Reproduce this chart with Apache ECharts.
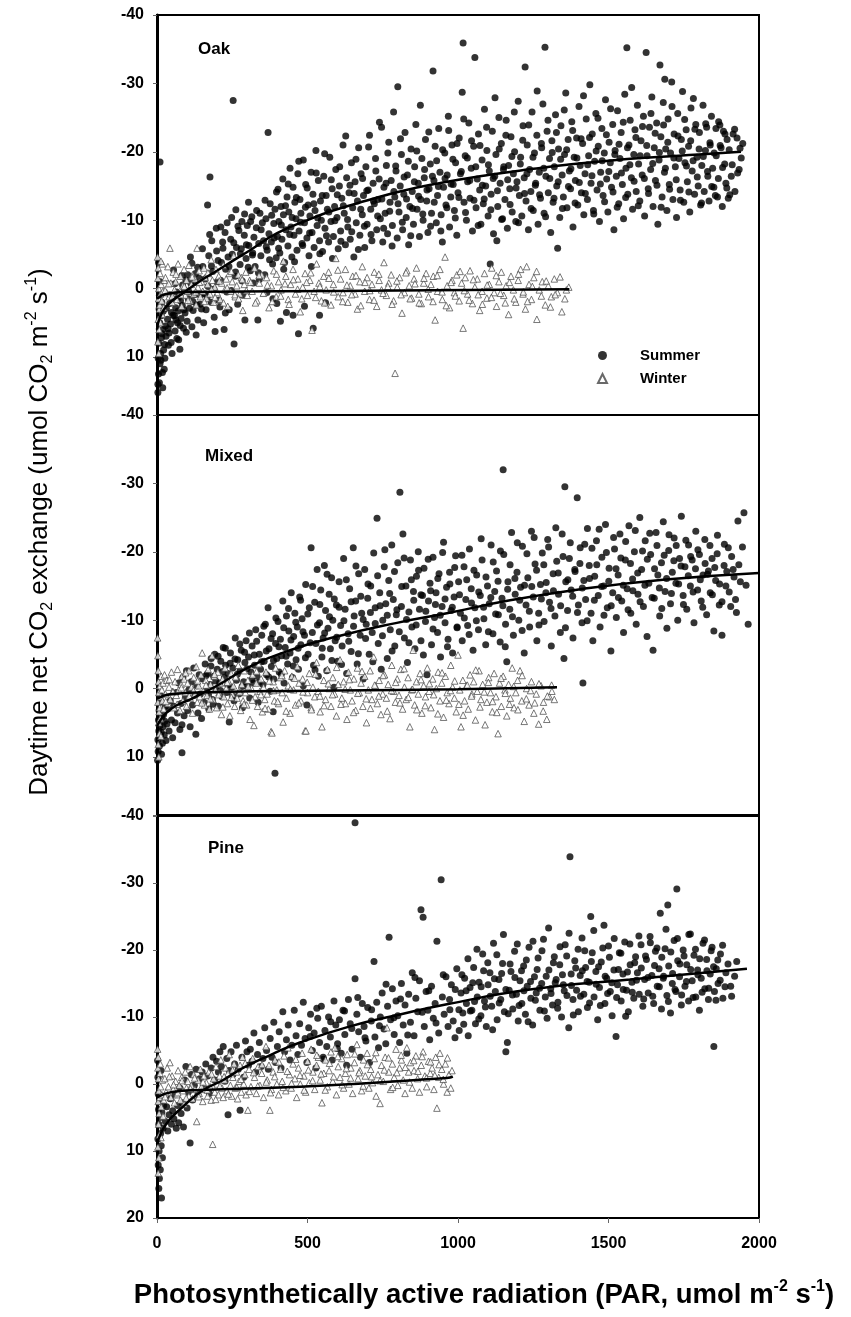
<!DOCTYPE html>
<html>
<head>
<meta charset="utf-8">
<script src="https://cdn.jsdelivr.net/npm/echarts@6.0.0/dist/echarts.min.js"></script>
<style>html,body{margin:0;padding:0;background:#fff;}#c{width:851px;height:1317px;}</style>
</head>
<body>
<div id="c"></div>
<script>
const panelNames = ['Oak', 'Mixed', 'Pine'];
const xTicks = [0, 500, 1000, 1500, 2000];
const yTicks = [-40, -30, -20, -10, 0, 10, 20];

const oakSummer = [
[3,15.2],[5,12.5],[8,13.8],[10,11],[12,9.5],[6,8],[15,7.2],[4,10.2],[18,12.3],[20,6],[9,5],[14,4],[22,9],[25,8.2],[7,3],[11,-1],[5,-3.8],[10,-18.5],[16,2],[28,5.5],[30,7],[3,14],[13,10.5],[24,11.8],[19,14.5],[8,1],
[35,4.5],[40,6.5],[42,2.2],[45,5.2],[48,3.5],[52,1.5],[55,-2.7],[58,4],[60,6.2],[62,2.8],[65,0.5],[68,5],[70,3.3],[72,7.5],[76,8.9],[78,1.8],[80,4.4],[84,2.5],[88,5.8],[90,0.2],[93,3.6],[96,-1.2],[100,4.8],[104,1.5],[108,2.9],[112,-0.8],[116,5.6],[116,-3.7],[120,3.2],[124,0.9],[128,-2.2],[132,2.4],[136,4.6],[140,-1.5],[144,1],[148,3],[38,8.3],[50,9.5],[66,7.3],[85,-0.5],[102,-2],[130,6.8],
[17,6.6],[21,3.3],[26,10.2],[31,2.9],[37,5.9],[43,0.9],[47,7.9],[53,3.9],[59,-0.7],[63,4.6],[71,1.3],[77,5.4],[83,-1.9],[89,3.1],[97,6.4],[105,0.4],[111,-4.6],[119,1.9],[127,-0.9],[135,-3.1],[143,2.3],[151,-5.8],[159,-1.4],[167,1.2],[175,-7.9],[181,-3.3],[189,0.1],[197,-8.8],[203,-4.1],[211,-1.2],[219,-5.9],[227,3.6],[233,-9.6],[239,-3.2],[247,0.3],[255,-6.7],[261,-2.4],[269,-9.1],[277,-5.1],[283,-1.1],[291,-10.9],[297,-6.4],
[152,-3.2],[155,5],[160,0.8],[163,3.1],[168,-12.2],[172,-4.8],[176,-16.3],[180,2],[185,-2.5],[190,4.2],[193,6.3],[198,-5.5],[200,-1],[205,1.7],[209,2.7],[214,-3.8],[218,-6.8],[223,6],[228,-2.8],[232,0.5],[236,-4.6],[240,3.1],[245,-7.2],[250,-5],[253,-27.5],[256,8.1],[260,-1.8],[264,-6],[268,2.3],[272,-8.5],[276,-3.5],[280,-5.8],[285,1],[290,-7.8],[292,4.6],[296,-4.4],[300,-9.2],[305,-6.3],[310,-2.6],[315,-10.5],[318,-5.2],[322,-7.5],[326,-3.2],[330,-8.9],[335,4.6],[338,-6.6],[342,-11],[345,-4.8],[350,-9.6],[354,-7],[358,-2],[362,-10.2],[366,-5.6],[369,-22.8],[372,-8],[376,-12.4],[380,-6.8],[384,-3.6],[388,-9.5],[392,-11.6],[396,-4.5],[400,-7.6],[170,-0.3],[182,-7],[212,-9],[226,-8.2],[248,-10.4],[262,-11.5],[282,-9.8],[304,-12.6],[320,-0.8],[340,-1.3],[365,0.6],[385,1.5],[398,2.2],
[410,4.8],[430,3.5],[452,3.9],[470,6.6],[490,2.6],[519,5.8],[540,3.9],[560,2.1],
[402,-14.5],[405,-9.8],[408,-5.2],[412,-12],[415,-7.2],[418,-16],[420,-10.8],[424,-3.8],[428,-8.6],[432,-13.4],[435,-6.2],[438,-11.2],[442,-17.6],[445,-9],[448,-4.6],[452,-14.8],[455,-7.8],[458,-12.6],[462,-10.2],[465,-5.6],[468,-16.8],[472,-8.4],[475,-13],[478,-11],[482,-6.6],[486,-18.8],[490,-9.6],[494,-15.2],[498,-7.4],[502,-12.2],[505,-4.8],[508,-10.6],[512,-17],[515,-8.2],[518,-13.8],[522,-6],[525,-11.4],[528,-20.2],[532,-9.2],[536,-15.8],[540,-7],[543,-12.8],[546,-10],[550,-5.4],[554,-16.4],[558,-8.8],[562,-13.6],[566,-11.6],[570,-6.8],[574,-19.2],[578,-9.8],[582,-14.6],[586,-7.6],[590,-12],[594,-17.4],[598,-10.4],[602,-5.8],[606,-15],[610,-8.4],[614,-13.2],[618,-21],[622,-11],[626,-6.4],[630,-16.2],[634,-9],[638,-14],[642,-7.2],[646,-18.4],[650,-11.8],[654,-4.6],[658,-15.6],[662,-9.6],[666,-12.8],[670,-20.6],[674,-7.8],[678,-16.8],[682,-10.8],[686,-13.6],[690,-6],[694,-17.8],[698,-9.4],[702,-14.4],[706,-22.4],[710,-11.6],[714,-7],[718,-15.4],[722,-12.4],[726,-19],[730,-8.6],[734,-13],[738,-16],[742,-10.2],[746,-23.6],[750,-6.8],[754,-14.8],[758,-11],[762,-18],[766,-8],[770,-21.4],[774,-12.6],[778,-15.8],[782,-9.2],[786,-25.8],[790,-13.4],[794,-17.2],[798,-7.4],[800,-29.5],
[303,-3.1],[311,-9.8],[317,-4.9],[331,-11.4],[337,-2.3],[346,-8.6],[359,-12.9],[363,-6.1],[374,-4.2],[381,-10.7],[389,-7.4],[397,-14.1],[404,-5.9],[413,-9.3],[421,-2.8],[427,-12.1],[436,-15.3],[441,-7.9],[449,-10.4],[457,-3.9],[463,-13.3],[471,-18.6],[477,-9.7],[484,-6.3],[493,-11.9],[499,-14.7],[507,-8.1],[513,-3.2],[521,-12.4],[529,-16.9],[534,-10.3],[541,-5.1],[549,-13.6],[557,-19.7],[563,-7.7],[571,-11.2],[579,-15.9],[583,-4.4],[591,-9.9],[599,-13.7],[607,-17.8],[611,-6.9],[619,-12.1],[627,-22.3],[633,-10.1],[641,-15.1],[647,-8.3],[655,-13.9],[661,-18.9],[669,-5.7],[677,-11.6],[683,-16.1],[689,-9.1],[697,-14.3],[703,-20.7],[711,-7.9],[719,-12.8],[727,-17.2],[733,-10.6],[739,-24.3],[747,-13.1],[753,-8.8],[761,-15.4],[767,-19.8],[773,-11.3],[781,-6.2],[787,-14.2],[793,-17.9],
[804,-11.2],[808,-15],[812,-19.6],[816,-8.6],[820,-13.8],[824,-22.8],[828,-10.4],[832,-16.6],[836,-6.4],[840,-12],[844,-20.4],[848,-14.2],[852,-9.4],[856,-17.8],[860,-24],[864,-11.6],[868,-15.4],[872,-7.6],[876,-13],[880,-19],[884,-10],[888,-16.2],[892,-21.8],[896,-12.8],[900,-8.2],[904,-14.6],[908,-18.2],[912,-11],[917,-31.8],[920,-15.8],[924,-20.8],[928,-9.6],[932,-13.6],[936,-23.4],[940,-17],[944,-10.8],[948,-6.8],[952,-14.8],[956,-19.8],[960,-12.2],[964,-16.6],[968,-25.2],[972,-9],[976,-13.4],[980,-21],[984,-15.2],[988,-11.4],[992,-18.4],[996,-7.8],[1000,-14],[1004,-22],[1008,-16.8],[1014,-28.7],[1017,-35.9],[1020,-12.6],[1024,-19.4],[1028,-10],[1032,-15.6],[1036,-24.2],[1040,-13.2],[1044,-17.6],[1048,-8.4],[1052,-20.8],[1056,-33.8],[1060,-11.8],[1064,-16],[1068,-22.6],[1072,-14.4],[1076,-9.4],[1080,-18.8],[1084,-12.4],[1088,-26.2],[1092,-15],[1096,-20.2],[1100,-10.6],[1104,-17.2],[1107,-3.6],[1110,-13.8],[1114,-23],[1118,-8],[1122,-16.4],[1126,-19.6],[1129,-7],[1132,-12],[1136,-25],[1140,-15.4],[1144,-21.2],[1148,-10.2],[1152,-17.8],[1156,-13],[1160,-24.6],[1164,-8.8],[1168,-18],[1172,-14.6],[1176,-22.2],[1180,-11.2],[1184,-16.8],[1188,-20],[1192,-9.8],[1196,-15.6],[1200,-27.4],
[801,-12.4],[809,-21.9],[815,-9.7],[821,-16.3],[829,-13.1],[835,-18.6],[843,-7.7],[849,-11.7],[855,-15.6],[863,-20.1],[869,-13.5],[875,-26.8],[883,-10.9],[889,-17.4],[897,-14.4],[903,-22.9],[909,-9.1],[915,-16.4],[921,-12.6],[929,-18.7],[935,-14.9],[943,-8.4],[949,-20.3],[957,-16.1],[963,-11.8],[969,-23.1],[977,-15.3],[983,-18.9],[991,-10.3],[997,-21.2],[1003,-13.3],[1011,-17.1],[1019,-24.8],[1025,-11.1],[1031,-19.1],[1039,-15.8],[1045,-21.6],[1053,-12.9],[1059,-17.8],[1067,-9.2],[1073,-20.9],[1081,-15.1],[1087,-13.1],[1095,-23.6],[1101,-18.1],[1109,-11.5],[1117,-16.1],[1123,-27.9],[1131,-14.3],[1137,-20.4],[1145,-10.1],[1151,-17.4],[1159,-22.4],[1165,-15.9],[1173,-12.3],[1179,-19.3],[1187,-25.8],[1193,-14.7],
[1204,-13.6],[1208,-19.2],[1212,-10.6],[1216,-23.8],[1220,-16.2],[1223,-32.4],[1226,-12.8],[1230,-21],[1234,-8.6],[1238,-17.4],[1242,-14.2],[1246,-25.8],[1250,-11.4],[1254,-19.8],[1258,-15.4],[1262,-22.4],[1266,-9.4],[1270,-17],[1274,-13.2],[1278,-20.6],[1282,-27],[1286,-11],[1289,-35.3],[1292,-16.4],[1296,-23],[1300,-14],[1304,-19],[1308,-8.2],[1312,-21.6],[1316,-12.6],[1320,-17.8],[1324,-25.4],[1328,-15],[1331,-5.9],[1334,-20.4],[1338,-10.4],[1342,-23.8],[1346,-16.6],[1350,-13.4],[1354,-19.6],[1358,-28.6],[1362,-11.8],[1366,-21.8],[1370,-17.2],[1374,-14.6],[1378,-24.4],[1382,-9],[1386,-19.2],[1390,-15.8],[1394,-22],[1398,-12.2],[1402,-26.6],[1406,-18],[1410,-14],[1414,-21.2],[1418,-10.8],[1422,-16.8],[1426,-24.8],[1430,-13],[1434,-19.4],[1438,-29.8],[1442,-15.4],[1446,-22.6],[1450,-11.4],[1454,-18.6],[1458,-25.6],[1462,-14.4],[1466,-20.8],[1470,-9.8],[1474,-17],[1478,-23.4],[1482,-13.6],[1486,-19.8],[1490,-27.6],[1494,-16],[1498,-11.2],[1502,-21.4],[1506,-18.4],[1510,-14.8],[1514,-24],[1518,-8.6],[1522,-20.2],[1526,-16.4],[1530,-26],[1534,-12.4],[1538,-19],[1542,-22.8],[1546,-15.2],[1550,-10.2],[1554,-28.4],[1558,-17.6],[1561,-35.2],[1564,-13.8],[1568,-21],[1572,-24.6],[1576,-16.2],[1580,-11.6],[1584,-19.6],[1588,-23.2],[1592,-14.2],[1596,-26.8],[1600,-18.2],
[1201,-9.6],[1207,-18.2],[1215,-21.7],[1221,-13.9],[1229,-16.8],[1235,-23.9],[1243,-11.7],[1249,-19.2],[1257,-15.1],[1263,-28.9],[1271,-13.7],[1277,-21.2],[1285,-17.6],[1291,-10.5],[1299,-24.6],[1305,-16.1],[1313,-19.9],[1319,-13.2],[1327,-22.8],[1333,-15.6],[1341,-18.9],[1347,-11.7],[1353,-26.1],[1361,-20.3],[1367,-14.9],[1375,-17.5],[1381,-23.1],[1389,-12.5],[1395,-19.1],[1403,-15.5],[1409,-21.9],[1417,-28.2],[1423,-13.9],[1431,-18.1],[1437,-22.1],[1445,-16.5],[1451,-10.9],[1459,-20.1],[1465,-24.9],[1473,-15.3],[1479,-18.7],[1487,-12.7],[1493,-22.5],[1501,-17.1],[1507,-26.3],[1515,-14.1],[1521,-19.6],[1529,-11.9],[1535,-21.1],[1543,-16.9],[1549,-24.3],[1557,-13.3],[1563,-20.6],[1571,-18.1],[1577,-29.4],[1585,-15.7],[1591,-22.1],[1599,-12.1],
[1604,-12.8],[1608,-21.6],[1612,-16.6],[1616,-25.2],[1620,-10.6],[1625,-34.5],[1628,-19.4],[1632,-14.6],[1636,-23.6],[1640,-17.4],[1644,-28],[1648,-12],[1652,-20.6],[1656,-15.8],[1660,-24.2],[1664,-9.4],[1668,-18.8],[1671,-32.7],[1674,-22.2],[1678,-13.4],[1682,-27.2],[1686,-17],[1687,-30.6],[1690,-20.4],[1694,-11.4],[1698,-24.8],[1702,-15.2],[1706,-19.8],[1710,-30.2],[1714,-13],[1718,-22.6],[1722,-17.8],[1726,-10.4],[1730,-25.6],[1734,-19],[1738,-14.4],[1742,-21.8],[1746,-28.8],[1750,-12.6],[1754,-18.4],[1758,-23.2],[1762,-15.6],[1766,-20.8],[1770,-11.2],[1774,-26.4],[1778,-17.2],[1782,-27.8],[1786,-13.8],[1790,-24],[1794,-19.2],[1798,-15],[1802,-22.8],[1806,-12.2],[1810,-18],[1814,-26.8],[1818,-14.2],[1822,-20.2],[1826,-23.6],[1830,-16.4],[1834,-12.8],[1838,-21],[1842,-25.2],[1846,-17.6],[1850,-14.8],[1855,-13.6],[1858,-19.4],[1862,-13.4],[1866,-24.4],[1870,-23.9],[1874,-20.6],[1878,-12],[1882,-23],[1886,-18.2],[1890,-15.4],[1894,-21.8],[1898,-13.2],[1903,-13.7],[1908,-16.4],[1914,-22.6],[1920,-14.2],[1927,-22],[1934,-17.4],[1937,-20.5],[1946,-21.2],
[1605,-19.4],[1613,-23.7],[1619,-16.1],[1627,-20.9],[1633,-13.9],[1641,-25.6],[1647,-18.3],[1655,-22.7],[1661,-15.1],[1669,-19.9],[1675,-11.9],[1683,-23.9],[1689,-17.6],[1697,-21.4],[1703,-14.5],[1711,-26.6],[1717,-19.1],[1725,-15.9],[1731,-22.3],[1739,-12.9],[1745,-20.1],[1753,-24.7],[1759,-17.9],[1767,-14.1],[1773,-21.6],[1781,-18.7],[1787,-23.3],[1795,-16.3],[1801,-20.4],[1809,-12.5],[1815,-19.3],[1823,-24.1],[1829,-17.1],[1837,-21.3],[1843,-14.9],[1851,-19.8],[1857,-23.4],[1865,-16.1],[1871,-20.9],[1879,-17.7],[1887,-22.6],[1893,-14.7],[1901,-20.3],[1911,-18.1],[1919,-23.3],[1929,-16.9],[1941,-19.1]
];

const oakWinter = [
[2,-4.6],[4,-3],[3,-1.5],[6,0],[5,1.5],[8,3],[4,4.5],[7,6],[3,7.8],[10,-2.2],[12,0.8],[9,2.4],[14,-0.6],[11,5],[16,1.8],[18,-3.6],[20,0.4],[22,2.8],[24,-1.2],[6,9.5],[13,-4],[17,3.8],
[28,-1.6],[32,0.6],[36,-3.2],[40,1.2],[43,-5.9],[46,-0.8],[50,2],[54,-2.4],[58,0.2],[62,-1],[66,1.6],[70,-3.6],[74,0.8],[78,-1.8],[82,2.6],[86,-0.4],[90,-2.8],[94,1],[98,-1.2],[102,0.4],[106,-3.4],[110,1.8],[114,-0.6],[118,-2],[122,0.8],[126,-1.4],[130,2.4],[133,-5.9],[136,-0.2],[140,-2.6],[144,1.2],[148,-1],[152,0.4],[156,-3],[160,-1.6],[164,1.4],[168,-0.6],[172,-2.2],[176,0.8],[180,-4.2],[184,-1.2],[188,2],[192,-0.2],[196,-2.8],[200,0.6],[205,-1.8],[210,1.6],[215,-0.8],[220,-3.4],[225,0.2],[230,-1.4],[235,2.6],[240,-2.2],[245,0.4],[250,-1],[255,-4.8],[260,1.2],[265,-0.4],[270,-2],[275,0.8],[280,-1.6],[285,3.2],[290,-0.6],[295,-2.4],[300,1],
[308,-1.2],[316,0.4],[324,-3],[332,1.8],[340,-0.8],[348,-2],[356,0.6],[364,-1.6],[372,2.8],[380,-0.4],[388,-2.6],[396,1.2],[404,-1],[412,0.2],[420,-4],[428,-1.8],[436,1.6],[444,-0.6],[452,-2.8],[460,0.8],[468,-1.4],[476,3.4],[484,-0.2],[492,-2.2],[500,1],[508,-1.2],[515,6.1],[522,0.4],[530,-3.6],[538,-0.8],[546,1.8],[554,-1.8],[562,0.2],[570,-2.4],[578,2.4],[586,-0.6],[594,-4.4],[602,1.2],[610,-1.4],[618,0.6],[626,-2.8],[634,2],[642,-0.4],[650,-1.8],[658,0.8],[666,3],[674,-1],[682,-3.2],[690,0.4],[698,-1.6],[706,1.6],[714,-0.6],[722,-2.4],[730,2.6],[738,-1.2],[746,0.2],[754,-3.8],[762,1],[770,-0.8],[778,-2],[786,1.8],[791,12.4],[798,-0.2],[806,-1.6],[814,3.6],[822,0.6],[830,-2.6],[838,-0.4],[846,1.4],[854,-1.4],[862,-3],[870,0.8],[878,2.2],[886,-0.8],[894,-2.2],[902,1.2],[910,-0.6],[918,-1.8],[924,4.6],[932,0.4],[940,-2.8],[948,1.6],[957,-4.6],[964,-0.4],[972,2.8],[980,-1.2],[988,0.6],[996,-2],[1004,1.8],[1012,-0.8],[1017,5.8],[1024,-1.6],[1032,0.8],[1040,-2.6],[1048,2.2],[1056,-0.2],[1064,-1.4],[1072,3.2],[1080,0.4],[1088,-2.2],[1096,1.4],[1104,-0.6],[1112,-3],[1120,0.6],[1128,2.6],[1136,-1],[1144,-2.4],[1152,1],[1160,-0.4],[1168,3.8],[1176,-1.8],[1184,0.2],[1192,2],[1200,-1.2],[1208,-2.8],[1216,0.8],[1224,3],[1228,-3.2],[1236,-0.6],[1244,1.6],[1252,-1.6],[1262,4.5],[1270,0.2],[1280,-1],[1290,2.4],[1300,-0.4],[1310,1.2],[1320,-1.4],[1330,0.6],[1345,3.4],[1360,0.2],[1368,-0.2],
[27,0.3],[39,-0.7],[51,1.1],[63,-2.1],[79,0.9],[91,-0.3],[103,1.7],[117,-1.7],[129,0.5],[141,-0.9],[157,1.9],[169,-2.3],[181,0.1],[193,1.3],[207,-1.1],[221,2.1],[233,-0.1],[247,-2.5],[259,0.9],[271,1.5],[283,-1.3],[297,0.3],[311,-0.9],[327,2.1],[339,-1.9],[353,0.7],[367,-0.5],[383,1.9],[397,-2.1],[411,1.1],[425,-0.7],[439,2.3],[453,-1.3],[467,0.1],[481,1.5],[497,-0.9],[511,-2.3],[527,1.3],[541,-0.3],[557,2.1],[571,-1.5],[587,0.5],[601,-2.7],[617,1.9],[631,-0.5],[647,0.9],[661,-1.9],[677,2.5],[691,-0.9],[707,0.3],[721,1.7],[737,-2.1],[751,0.7],[767,-0.3],[781,2.3],[797,-1.1],[811,0.9],[827,-2.3],[841,1.5],[857,-0.7],[871,2.1],[887,-1.5],[901,0.1],[917,1.9],[931,-1.9],[947,0.5],[961,2.5],[977,-0.9],[991,1.1],[1007,-2.5],[1021,0.3],[1037,1.7],[1051,-1.3],[1067,0.9],[1081,2.3],[1097,-0.5],[1111,1.3],[1127,-1.9],[1141,0.7],[1157,2.1],[1171,-0.9],[1187,1.5],[1201,-2.1],[1217,0.5],[1231,1.9],[1247,-0.3],[1261,-2.5],[1277,1.1],[1293,-1.1],[1307,2.7],[1323,0.9],[1339,-1.7],[1355,1.5]
];

const mixedSummer = [
[2,10.5],[4,9.2],[3,7.5],[6,6.2],[8,8.4],[5,4.6],[10,5.4],[12,7],[7,3.2],[14,6.4],[16,4.2],[18,8],[20,5.6],[9,2],[22,3.8],[24,6.8],[26,4.8],[28,2.6],[30,7.6],[11,1],[15,9.6],
[33,5.2],[36,3],[40,6.2],[44,1.8],[48,4.6],[52,7.2],[56,2.6],[60,5],[64,0.6],[68,3.6],[72,-0.8],[76,6],[80,2.2],[83,5.3],[83,9.4],[86,-1.6],[90,4],[94,1.4],[98,-2.6],[102,3.2],[106,0.2],[110,5.6],[114,-1],[118,2.4],[122,-3],[126,1],[129,6.7],[132,-0.4],[136,3.6],[140,-2],[144,0.8],[148,4.4],
[152,-1.4],[156,2],[160,-3.6],[164,0.4],[168,-2.2],[172,3],[176,-0.6],[180,-4.4],[184,1.6],[188,-1.8],[192,-5],[196,0.2],[200,-2.8],[204,2.6],[208,-0.8],[212,-4],[216,1.2],[220,-6],[224,-1.6],[228,-3.4],[232,0.6],[236,-2.2],[240,4.9],[244,-5.2],[248,-0.2],[252,-3],[256,1.8],[260,-7.4],[264,-1.2],[268,-4.2],[272,0.8],[276,-2.6],[280,-5.6],[284,2.8],[288,-1],[292,-3.8],[296,-7],[300,-0.4],[304,-4.6],[308,1.4],[312,-2.4],[316,-6.2],[320,-0.8],[324,-3.4],[328,-8.6],[332,-1.8],[336,2],[340,-5],[344,-2.8],[348,-7.8],[352,-0.6],[356,-4],[360,-9.4],[364,-2],[369,-11.8],[372,-5.8],[376,0.4],[380,-3.2],[384,-8],[386,3.4],[388,-1.4],[392,12.4],[394,-6.6],[398,-4.4],
[163,-1.9],[171,0.9],[179,-3.3],[187,2.3],[195,-1.1],[203,-4.7],[211,0.3],[219,-2.5],[227,-5.9],[235,-0.5],[243,-3.7],[251,1.1],[259,-4.3],[267,-2.1],[275,-6.5],[283,-0.3],[291,-5.3],[299,-2.9],[307,-8.1],[315,-1.3],[323,-4.9],[331,-6.9],[339,-0.9],[347,-3.9],[355,-9.1],[363,-5.5],[371,-1.7],[379,-7.3],[387,-4.1],[395,-10.3],
[402,-9.8],[406,-2.4],[410,-7.2],[414,-4.8],[418,-12.8],[422,-0.8],[426,-6],[430,-10.6],[434,-3.6],[438,-8.4],[442,-5.2],[446,-14],[450,-1.6],[454,-7.6],[458,-11],[462,-4.2],[466,-9],[470,-2.8],[474,-13.4],[478,-6.4],[482,-10.2],[486,-0.4],[490,-7.8],[494,-15.2],[498,2.4],[502,-5],[506,-11.8],[512,-20.6],[516,-8.2],[520,-3.4],[524,-12.6],[528,-6.6],[532,-17.4],[536,-1.8],[540,-9.6],[544,-14.4],[548,-4.6],[552,-7.4],[556,-18],[560,-11.4],[564,-2.6],[568,-8.8],[572,-13.8],[576,-5.8],[580,-16.2],[584,-10],[588,-0.2],[592,-7],[596,-12.2],[600,-4],[605,-15.6],[610,-9.2],[615,-6.2],[620,-19],[625,-11.6],[630,-2.2],[635,-8],[640,-14.6],[645,-5.4],[652,-20.6],[655,-10.6],[660,-12.8],[665,-3.6],[670,-16.8],[675,-7.8],[680,-11],[685,-1.4],[690,-17.4],[695,-9.4],[700,-13.2],[705,-5],[710,-15],[715,-8.2],[720,-19.8],[725,-11.8],[731,-24.9],[735,-6.6],[740,-14],[745,-2.8],[750,-10],[755,-17.8],[760,-12.4],[765,-4.4],[770,-15.8],[775,-8.6],[780,-21],[785,-13],[790,-6.2],[795,-10.8],[800,-18.4],[807,-28.7],[812,-12],[817,-22.6],[822,-7.4],[827,-15],[832,-3.8],[837,-11.2],[842,-18.8],[847,-9],[852,-14.2],[857,-5.8],[862,-16.4],[868,-20],[872,-11.6],[877,-7],[882,-13.6],[887,-17.6],[892,-9.8],[897,-2],[902,-12.8],[907,-15.4],[912,-6.4],[917,-19.2],[922,-10.4],[927,-14],[932,-8.2],[937,-16.8],[942,-4.6],[947,-12],[952,-21.4],[957,-9.6],[962,-14.8],[967,-7.2],[972,-17],[977,-11.4],[982,-5.2],[987,-13.4],[992,-19.4],[997,-9],
[405,-6.1],[413,-2.1],[421,-8.9],[429,-4.7],[437,-11.7],[445,-7.1],[453,-3.3],[461,-9.7],[469,-5.9],[477,-12.9],[485,-8.3],[493,-4.5],[501,-10.9],[509,-6.7],[517,-14.9],[525,-2.7],[533,-9.3],[541,-12.3],[549,-5.9],[557,-8.1],[565,-16.7],[573,-10.5],[581,-4.1],[589,-13.1],[597,-7.5],[605,-11.9],[613,-3.5],[621,-9.9],[629,-15.9],[637,-6.9],[645,-12.7],[653,-9.1],[661,-17.9],[669,-5.1],[677,-13.5],[685,-10.1],[693,-7.3],[701,-15.3],[709,-11.1],[717,-3.9],[725,-9.5],[733,-16.5],[741,-12.1],[749,-7.7],[757,-20.3],[765,-10.7],[773,-13.9],[781,-5.5],[789,-17.1],[797,-11.5],[805,-8.3],[813,-14.9],[821,-19.1],[829,-10.1],[837,-6.7],[845,-15.9],[853,-12.9],[861,-9.3],[869,-17.3],[877,-13.7],[885,-4.9],[893,-11.3],[901,-18.9],[909,-14.3],[917,-8.7],[925,-12.3],[933,-16.1],[941,-10.7],[949,-19.9],[957,-13.1],[965,-6.1],[973,-15.3],[981,-11.9],[989,-17.7],[997,-8.9],
[1002,-15.6],[1008,-11],[1014,-7],[1020,-17.8],[1026,-13],[1032,-9.2],[1038,-20.4],[1044,-14.6],[1050,-5.6],[1056,-11.8],[1062,-16.6],[1068,-8.6],[1074,-13.6],[1080,-18.8],[1086,-10.2],[1092,-6.4],[1098,-15],[1104,-12.4],[1110,-21],[1116,-8],[1122,-14.2],[1128,-17.2],[1134,-10.8],[1140,-6.8],[1150,-32],[1146,-13.2],[1152,-19.6],[1158,-9.4],[1162,-3.9],[1166,-15.6],[1172,-11.6],[1178,-22.8],[1184,-7.8],[1190,-13.8],[1196,-17],[1202,-10],[1208,-14.8],[1214,-20.8],[1220,-5.2],[1226,-12.2],[1232,-16.2],[1238,-9],[1244,-23],[1250,-13.4],[1256,-18.2],[1262,-7],[1268,-11],[1274,-15.2],[1280,-19.8],[1286,-9.8],[1292,-14],[1298,-21.8],[1304,-12.6],[1310,-6.2],[1316,-16.8],[1322,-10.6],[1328,-18.6],[1334,-13.8],[1340,-8.2],[1346,-22.6],[1352,-4.4],[1355,-29.5],[1358,-15.6],[1364,-11.4],[1370,-19],[1376,-14.4],[1382,-7.4],[1388,-17.4],[1396,-27.9],[1400,-12.2],
[1005,-13.7],[1013,-19.5],[1021,-10.3],[1029,-15.9],[1037,-7.9],[1045,-12.5],[1053,-17.3],[1061,-9.9],[1069,-14.1],[1077,-21.9],[1085,-11.9],[1093,-16.3],[1101,-8.3],[1109,-13.3],[1117,-18.5],[1125,-10.9],[1133,-15.7],[1141,-20.1],[1149,-12.1],[1157,-6.1],[1165,-14.5],[1173,-18.1],[1181,-10.5],[1189,-16.1],[1197,-21.3],[1205,-12.9],[1213,-8.5],[1221,-15.1],[1229,-19.7],[1237,-11.3],[1245,-14.9],[1253,-22.1],[1261,-17.3],[1269,-9.3],[1277,-13.1],[1285,-18.1],[1293,-15.5],[1301,-20.7],[1309,-11.7],[1317,-14.3],[1325,-23.5],[1333,-16.9],[1341,-12.1],[1349,-19.3],[1357,-8.9],[1365,-15.9],[1373,-21.3],[1381,-13.5],[1389,-17.1],[1397,-11.1],
[1406,-20.6],[1412,-9.6],[1415,-0.8],[1418,-15.8],[1424,-13],[1430,-23.4],[1436,-18],[1442,-11],[1448,-7],[1454,-16.4],[1460,-21.6],[1466,-13.6],[1472,-9],[1478,-19.2],[1484,-15],[1490,-24],[1496,-11.8],[1502,-17.6],[1508,-5.5],[1514,-14],[1520,-20.4],[1526,-10.4],[1532,-16.6],[1538,-22.6],[1544,-12.8],[1550,-8.2],[1556,-18.8],[1562,-14.6],[1568,-23.8],[1574,-11],[1580,-16],[1586,-20],[1592,-9.4],[1598,-13.8],[1604,-25],[1610,-17.4],[1616,-12],[1622,-21.6],[1628,-7.6],[1634,-15.4],[1640,-19.6],[1648,-5.6],[1652,-13.2],[1658,-22.8],[1664,-16.6],[1670,-10.6],[1676,-18.4],[1682,-24.4],[1688,-14.2],[1694,-8.8],[1700,-20.2],[1706,-12.4],[1712,-17],[1718,-22],[1724,-15.4],[1730,-10],[1736,-19],[1742,-25.2],[1748,-13.6],[1754,-17.8],[1760,-11.6],[1766,-21],[1772,-15],[1778,-18.8],[1784,-9.6],[1790,-23],[1796,-14.4],[1802,-19.6],[1808,-12.8],[1814,-16.6],[1820,-21.8],[1826,-10.8],[1832,-17.2],[1838,-14],[1844,-19],[1850,-8.4],[1856,-15.8],[1862,-22.4],[1868,-12.2],[1877,-7.8],[1884,-18],[1890,-15],[1898,-20.6],[1906,-12],[1914,-17.4],[1922,-13],[1930,-24.5],[1938,-15.6],[1950,-25.7],[1964,-9.4],
[1405,-18.3],[1413,-14.7],[1421,-21.1],[1429,-9.9],[1437,-16.1],[1445,-20.5],[1453,-12.9],[1461,-18.1],[1469,-23.3],[1477,-14.9],[1485,-10.7],[1493,-19.9],[1501,-15.7],[1509,-12.1],[1517,-22.1],[1525,-17.5],[1533,-13.3],[1541,-19.1],[1549,-15.1],[1557,-21.5],[1565,-11.5],[1573,-18.3],[1581,-14.3],[1589,-23.1],[1597,-16.9],[1605,-12.7],[1613,-20.1],[1621,-15.1],[1629,-18.9],[1637,-22.7],[1645,-13.3],[1653,-17.5],[1661,-20.9],[1669,-14.7],[1677,-11.7],[1685,-19.5],[1693,-16.1],[1701,-22.5],[1709,-13.9],[1717,-18.7],[1725,-20.9],[1733,-15.3],[1741,-17.9],[1749,-12.3],[1757,-21.7],[1765,-16.5],[1773,-19.3],[1781,-14.1],[1789,-17.5],[1797,-20.3],[1805,-15.9],[1813,-11.9],[1821,-18.3],[1829,-16.7],[1837,-20.9],[1845,-13.7],[1853,-17.7],[1861,-19.7],[1869,-15.3],[1877,-12.7],[1885,-21.1],[1893,-17.1],[1901,-14.1],[1909,-19.3],[1917,-16.3],[1925,-11.1],[1933,-18.1],[1945,-20.7],[1957,-15.1]
];

const mixedWinter = [
[2,-7.4],[3,-4.8],[4,-2.6],[5,-1],[6,0.6],[3,2],[7,3.4],[5,5],[8,6.6],[4,8.2],[6,10],[10,-0.4],[12,1.2],[9,2.8],[14,-1.8],[11,4.4],[16,0.2],[18,1.8],[20,-0.8],[22,3],[25,-2],[13,7],
[28,0.8],[32,-1.2],[36,2.2],[40,-0.2],[44,1.6],[48,-2.4],[52,0.4],[56,2.8],[60,-1],[64,1],[68,-2.8],[72,0.2],[76,3.2],[80,-0.6],[83,-1.8],[86,1.8],[90,-1.4],[94,0.6],[98,2.6],[102,-0.8],[106,-2.6],[110,1.4],[114,-0.2],[118,3.6],[122,-1.6],[126,0.8],[130,-3.2],[134,2],[138,-0.4],[142,1.2],[146,-2],[150,-5.2],[154,0.4],[158,2.4],[162,-1.2],[166,1],[170,-2.8],[174,3],[178,-0.6],[183,-4.8],[186,1.6],[190,-1.8],[194,0.2],[198,2.8],[202,-2.4],[206,0.6],[210,-0.8],[214,3.8],[218,-1.4],[222,1.2],[226,-3],[230,0],[234,2.2],[238,-1],[242,4],[246,-2.2],[250,0.8],[254,-0.4],[258,2.6],[262,-1.8],[266,1.4],[270,-3.4],[274,0.2],[278,3.2],[282,-0.6],[286,1.8],[290,-2.6],[294,0.6],[298,2.4],[302,-1.2],[309,4.5],[314,0],[318,-2],[322,5.4],[326,1.2],[330,-0.8],[334,2.6],[338,-3.6],[342,0.4],[346,-1.4],[350,3.4],[354,-0.2],[358,1.6],[362,-2.4],[366,0.8],[370,3],[379,6.3],[382,6.5],[386,-1],[390,1.8],[394,-3],[398,0.2],
[404,2.2],[410,-1.6],[416,0.6],[419,4.9],[424,-2.6],[430,1.4],[436,-0.4],[442,3.6],[448,-1.8],[454,0.2],[460,2.4],[466,-3.2],[472,-0.8],[478,1.8],[484,-1.4],[492,6.2],[495,6.2],[500,0.6],[506,-2.2],[512,2.8],[518,-0.2],[524,1.2],[530,-3.8],[536,0.4],[542,3.4],[548,5.6],[554,-1.2],[560,1.6],[566,-2.8],[572,0],[578,2.6],[584,-1.6],[590,0.8],[596,4],[602,-0.6],[608,-4.2],[614,1.4],[620,-1],[626,2.2],[631,4.5],[636,-2.4],[642,0.2],[648,1.8],[654,-1.4],[660,3.2],[666,-3],[672,0.6],[678,-0.8],[684,2.6],[690,-1.8],[696,5],[702,0.2],[708,-2.6],[714,1.6],[720,-4.6],[726,-0.4],[732,2.2],[738,-1.2],[744,3.8],[750,0.8],[756,-2],[762,1.4],[768,-0.6],[774,4.4],[780,-3.4],[786,0.4],[792,2],[798,-1.4],[804,1],[810,-2.8],[816,3],[822,-0.2],[828,1.6],[834,-1.6],[840,5.6],[846,0.2],[851,-5.6],[856,2.4],[862,-1],[868,0.8],[874,-2.2],[880,3.6],[886,-0.4],[892,1.2],[898,-3],[904,0.4],[910,2.8],[916,-1.4],[922,6],[928,0],[934,-2.4],[940,1.8],[946,-0.8],[952,4.2],[958,-1.8],[964,0.6],[970,2.2],[976,-3.4],[982,-0.2],[988,1.4],[994,3.4],[1000,-4.9],[1006,0.2],[1010,5.6],[1016,-1.2],[1022,1.8],[1028,-0.4],[1034,3],[1040,-2],[1046,0.8],[1052,-1],[1058,4.6],[1064,0.4],[1070,-2.6],[1076,1.6],[1082,-0.6],[1090,5.3],[1096,2],[1102,-1.6],[1108,0.6],[1114,3.4],[1120,-2.2],[1126,1.2],[1133,6.6],[1138,-0.8],[1144,2.6],[1150,-1.8],[1156,0.2],[1162,4],[1168,-0.6],[1174,1.4],[1180,-3],[1186,2.8],[1192,0.6],[1198,-1.2],[1206,-2.6],[1212,1.8],[1220,4.8],[1228,0],[1236,2.4],[1244,-1],[1252,3.6],[1260,0.8],[1268,5.2],[1276,-0.4],[1284,2],[1295,4.5],[1304,1.2],[1312,0.4],[1320,1.6],
[29,1.9],[41,-1.3],[53,0.5],[67,2.3],[81,-0.1],[95,-2.3],[107,1.1],[121,0.3],[135,-1.1],[149,2.1],[163,-0.5],[177,1.5],[191,-2.1],[205,0.9],[219,2.7],[233,-0.9],[247,1.3],[261,-1.7],[275,0.5],[289,2.3],[303,-0.3],[317,1.7],[331,-2.5],[345,0.9],[359,2.9],[373,-1.1],[387,0.3],[401,1.9],[415,-1.9],[429,3.3],[443,0.1],[457,-1.5],[471,2.1],[485,0.5],[499,-0.9],[513,3.1],[527,-2.1],[541,1.1],[555,2.5],[569,-0.7],[583,0.9],[597,-3.1],[611,2.3],[625,0.1],[639,-1.3],[653,3.5],[667,0.7],[681,-2.5],[695,1.5],[709,2.9],[723,-0.5],[737,1.1],[751,-1.9],[765,3.3],[779,0.3],[793,-0.9],[807,2.1],[821,-2.9],[835,1.3],[849,0.1],[863,3.1],[877,-1.3],[891,2.5],[905,-0.7],[919,0.9],[933,3.7],[947,-2.3],[961,1.7],[975,0.3],[989,-1.1],[1003,2.3],[1017,3.9],[1031,-0.5],[1045,1.1],[1059,-2.7],[1073,2.7],[1087,0.5],[1101,-0.9],[1115,1.9],[1129,3.5],[1143,-1.5],[1157,0.7],[1171,2.3],[1185,-0.3],[1199,3.1],[1213,-1.9],[1227,1.5],[1241,0.3],[1255,2.1],[1269,-0.7],[1283,3.3],[1297,1.1],[1311,-0.5]
];

const pineSummer = [
[2,-3.5],[3,-1],[4,1.5],[5,3.8],[6,6],[3,8.2],[7,10],[4,12.1],[8,14.1],[15,17],[10,5],[12,7.4],[9,2.6],[14,9.2],[16,4.2],[18,11],[20,6.6],[11,12.8],[6,15.6],[22,3.2],[13,-2],
[28,5.6],[32,3.4],[36,7],[40,4.6],[44,2.2],[48,6],[52,4],[56,5.2],[60,1.6],[64,6.6],[68,3.2],[72,5.8],[76,0.6],[80,4.4],[84,2.8],[88,6.4],[92,-0.6],[96,-2.6],[100,3.6],[104,1.2],[110,8.8],[114,-1.4],[118,2.4],[124,0.2],[130,-2.2],[136,1.6],[142,-0.8],[150,-1.8],
[156,0.6],[162,-3],[168,-1.2],[174,1.4],[180,-2.4],[186,-4],[192,-0.6],[198,-3.4],[204,-1.8],[209,-4.8],[214,-2.6],[220,-5.6],[226,-0.4],[232,-3.8],[236,4.6],[240,-2],[246,-4.8],[252,-1.4],[258,-3],[264,-5.8],[270,-2.2],[276,3.9],[282,-4],[288,-1],[294,-6.4],[299,-4.8],[304,-2.8],[310,-5.2],[316,-3.4],[322,-7.6],[328,-1.8],[334,-4.4],[340,-6.2],[346,-2.6],[352,-3.8],[358,-8.4],[364,-5],[370,-2.2],[376,-6.8],[382,-4],[388,-9.2],[394,-3.2],[400,-5.6],[406,-7.8],[412,-2.4],[418,-10.8],[424,-4.8],[430,-6.6],[436,-8.8],[442,-3.6],[448,-5.8],
[456,-11],[462,-7.2],[468,-4.4],[474,-9],[480,-5.8],[486,-12.2],[492,-6.8],[498,-3.2],[504,-8.4],[510,-10.4],[516,-5],[522,-7.6],[528,-2.4],[534,-9.8],[540,-6.2],[546,-11.6],[552,-4],[558,-8],[564,-5.6],[570,-10],[576,-7],[582,-3.6],[588,-12.4],[594,-8.8],[600,-6],[606,-9.6],[612,-4.6],[618,-11],[624,-7.4],[630,-2.8],[636,-12.6],[642,-9],[648,-5.2],[658,-15.7],[658,-39],[664,-10.4],[670,-7.8],[676,-4],[682,-12],[688,-8.6],[694,-6.4],[700,-11.4],[706,-3.2],[712,-9.4],[721,-18.3],[724,-7],[730,-12.2],[736,-5.4],[742,-10],[748,-13.6],[754,-8.2],[760,-6],[766,-11.6],[771,-21.9],[776,-9.6],[782,-14.2],[788,-7.4],[794,-12.4],[800,-10.2],[806,-6.2],[812,-15],[818,-8.8],[824,-11.8],[830,-4.6],[836,-13.4],[842,-9.2],[848,-16.6],[854,-7.2],[860,-12.8],[866,-10.8],[872,-15.4],[877,-26],[884,-24.9],[888,-8.6],[894,-13.8],[900,-11],[906,-6.6],[912,-14.6],[918,-9.8],[924,-12],[930,-21.3],[936,-7.6],[944,-30.5],[948,-13],[954,-10.4],[960,-16],[967,-8.6],[972,-12.6],[978,-14.8],[984,-9.4],[990,-6.9],[996,-17.2],
[509,-7.1],[531,-11.3],[553,-3.7],[577,-9.3],[599,-5.3],[623,-10.9],[647,-8.3],[667,-12.9],[691,-6.9],[713,-11.1],[739,-8.7],[761,-14.9],[787,-9.9],[809,-12.7],[833,-7.3],[857,-15.9],[881,-10.7],[903,-13.9],[927,-9.1],[951,-16.3],[973,-11.1],[991,-14.1],
[1004,-8],[1010,-13.6],[1016,-10.6],[1022,-15.8],[1028,-12],[1034,-7.2],[1040,-14.4],[1046,-11],[1052,-17.4],[1058,-9],[1064,-13],[1070,-15.2],[1076,-10.2],[1082,-19.4],[1088,-12.4],[1094,-8.6],[1100,-14.8],[1106,-16.6],[1112,-11.6],[1118,-21],[1124,-13.8],[1130,-9.6],[1136,-15.6],[1142,-12.6],[1148,-18],[1154,-10.8],[1159,-4.8],[1164,-6.2],[1170,-14],[1176,-16.8],[1182,-11.2],[1188,-19.8],[1194,-13.4],[1200,-9.4],[1206,-15.4],[1212,-12],[1218,-17.6],[1224,-10.4],[1230,-14.6],[1236,-20.4],[1242,-12.8],[1248,-8.8],[1254,-16],[1260,-13.6],[1266,-18.8],[1272,-11],[1278,-15],[1284,-21.6],[1290,-13],[1296,-9.8],[1302,-17],[1308,-14.2],[1314,-11.8],[1320,-19],[1326,-15.6],[1332,-12.2],[1338,-17.8],[1344,-10],[1350,-14.8],[1356,-20.8],[1362,-13.2],[1372,-33.9],[1368,-8.4],[1376,-16.4],[1382,-12.6],[1388,-18.4],[1394,-14],[1400,-10.8],[1406,-16.2],[1412,-21.8],[1418,-13.4],[1424,-17.4],[1430,-11.4],[1436,-15.2],[1441,-25],[1446,-19.6],[1452,-13],[1458,-16.8],[1464,-9.6],[1470,-14.4],[1476,-18.2],[1485,-23.7],[1488,-12],[1494,-15.8],[1500,-20.6],[1506,-13.8],[1512,-10.2],[1518,-17],[1525,-7.1],[1530,-14.8],[1536,-19.6],[1542,-12.4],[1548,-16.4],[1554,-21.2],[1560,-14],[1566,-10.8],[1572,-17.8],[1578,-15.2],[1584,-12.8],[1590,-19],[1596,-16.6],[1602,-13.4],[1608,-20.8],[1614,-11.6],[1620,-15.6],[1626,-18.6],[1632,-13.6],[1638,-22],[1644,-16.2],[1650,-12],[1656,-19.8],[1662,-14.6],[1672,-25.5],[1668,-17.2],[1676,-11.2],[1682,-15.8],[1688,-20.2],[1697,-26.7],[1694,-13.2],[1700,-17.6],[1706,-10.6],[1712,-15],[1718,-21.4],[1727,-29.1],[1724,-13.8],[1730,-18.4],[1736,-16],[1742,-11.8],[1748,-20],[1754,-14.6],[1760,-17.8],[1766,-12.4],[1772,-22.4],[1778,-15.4],[1784,-19.2],[1790,-13],[1796,-17],[1802,-11],[1808,-15.8],[1814,-21],[1820,-14.2],[1826,-18.6],[1832,-12.6],[1838,-16.4],[1844,-20.4],[1850,-5.6],[1852,-13.8],[1858,-17.2],[1864,-15],[1872,-19.4],[1880,-12.8],[1890,-16.6],[1906,-14.6],[1926,-18.3],
[1003,-11.1],[1013,-16.3],[1019,-8.9],[1027,-13.9],[1033,-18.7],[1041,-10.9],[1049,-15.1],[1055,-12.3],[1063,-20.1],[1069,-9.7],[1077,-14.5],[1085,-16.9],[1091,-11.5],[1099,-18.1],[1107,-13.1],[1115,-8.1],[1121,-15.7],[1129,-19.3],[1137,-12.1],[1145,-16.5],[1151,-22.3],[1159,-14.1],[1167,-10.5],[1173,-17.9],[1181,-13.3],[1189,-15.9],[1197,-20.9],[1203,-11.7],[1211,-16.9],[1219,-13.9],[1227,-18.5],[1233,-9.3],[1241,-15.3],[1249,-21.3],[1257,-12.5],[1263,-17.1],[1271,-14.3],[1279,-19.9],[1287,-10.9],[1293,-16.1],[1301,-23.3],[1309,-13.5],[1317,-18.1],[1323,-15.1],[1331,-11.3],[1339,-20.5],[1347,-16.3],[1353,-13.9],[1361,-19.1],[1369,-22.5],[1377,-14.7],[1383,-10.3],[1391,-17.3],[1399,-20.1],[1407,-13.1],[1413,-16.9],[1421,-19.9],[1429,-15.3],[1437,-12.1],[1443,-18.3],[1451,-22.9],[1459,-14.9],[1467,-17.5],[1473,-11.7],[1481,-20.3],[1489,-16.1],[1497,-13.5],[1503,-18.9],[1511,-15.1],[1519,-21.7],[1527,-12.9],[1533,-17.1],[1541,-19.5],[1549,-14.1],[1557,-10.1],[1563,-16.7],[1571,-20.9],[1579,-13.7],[1587,-18.1],[1593,-15.5],[1601,-22.1],[1609,-17.3],[1617,-12.7],[1623,-19.1],[1631,-15.9],[1639,-21.1],[1647,-13.1],[1653,-17.7],[1661,-20.3],[1669,-14.5],[1677,-18.9],[1683,-16.1],[1691,-23.1],[1699,-12.3],[1707,-19.7],[1713,-16.5],[1721,-14.1],[1729,-21.7],[1737,-17.9],[1743,-13.3],[1751,-19.1],[1759,-15.3],[1767,-22.3],[1773,-17.1],[1781,-12.9],[1789,-20.1],[1797,-16.3],[1803,-18.7],[1811,-13.7],[1819,-21.5],[1827,-16.9],[1833,-14.3],[1841,-19.9],[1849,-17.5],[1857,-12.5],[1863,-18.5],[1871,-15.5],[1879,-20.7],[1887,-14.5],[1897,-17.9],[1909,-13.1],[1919,-16.1]
];

const pineWinter = [
[2,-5.2],[4,-4],[3,-2.4],[5,-0.8],[6,1],[4,2.6],[7,4.4],[5,6],[8,7.6],[3,9.4],[6,11],[4,13.3],[10,-1.6],[12,0.4],[9,2],[14,3.4],[11,-3],[16,1.6],[18,-0.6],[20,4.8],[22,2.4],[13,8],
[26,-0.8],[30,1.2],[34,-2.4],[38,0.4],[43,-3.2],[46,2],[50,-1.2],[54,0.8],[58,2.8],[62,-0.4],[66,1.6],[70,-2],[74,0.2],[78,2.4],[82,-1],[86,1],[90,3],[94,-1.8],[98,0.6],[102,-0.4],[106,1.8],[110,-2.6],[114,0.2],[118,2.2],[122,-1.4],[126,0.8],[132,5.6],[136,-0.6],[140,1.4],[144,-2.2],[148,0.4],[152,2.6],[156,-1.2],[160,0.8],[164,-0.2],[168,1.8],[172,-1.8],[176,0.4],[180,2.4],[185,9],[188,-0.8],[192,1.2],[196,-2.6],[200,0],[204,1.6],[208,-1.2],[212,-3.6],[216,0.6],[220,2],[224,-0.6],[228,-2.4],[232,1],[236,-1.6],[240,-4.4],[244,0.2],[248,1.8],[252,-1],[256,-3],[260,0.6],[264,-1.8],[268,2.2],[272,-0.4],[276,-2.8],[280,1.2],[284,-4],[288,0],[292,-1.4],[296,1.6],[302,3.9],
[306,-2.2],[312,0.4],[318,-3.8],[324,-1],[330,1.4],[336,-2.6],[342,0.2],[348,-1.6],[354,2],[362,-5.6],[366,-0.6],[372,-2.8],[375,3.9],[380,0.8],[386,-1.8],[392,-3.6],[398,0],[404,1.6],[410,-2.2],[416,-0.4],[422,-4.2],[428,1],[435,-5.4],[440,-1.4],[446,0.6],[452,-3],[458,-0.8],[464,2],[470,-2.4],[476,0],[482,-4.6],[488,-1.2],[494,1.2],[500,-3.4],[506,-0.2],[512,-5.2],[518,-1.8],[524,0.8],[530,-2.8],[536,-4],[542,-0.6],[548,2.8],[554,-1.6],[560,-3.6],[566,0.4],[572,-2],[578,-4.8],[584,-0.4],[591,-5.4],[596,1.6],[602,-2.6],[608,-1],[614,-3.8],[620,0.6],[626,-1.6],[632,-4.4],[638,0],[644,-2.4],[650,1.4],[656,-3.2],[664,-5.9],[668,-0.8],[674,-2],[680,1],[686,-3.6],[692,-1.2],[698,-4.6],[704,0.6],[710,-2.2],[716,-0.2],[722,-3.8],[728,1.8],[734,-1.4],[741,2.9],[746,-2.8],[752,-0.4],[758,-4],[764,-8.4],[770,-1.8],[776,0.8],[782,-3],[788,-1],[794,-5.2],[800,0.2],[806,-2.4],[812,-3.6],[818,-0.6],[824,1.4],[830,-5.4],[836,-1.8],[842,-3.2],[848,0.6],[854,-2],[860,-4.2],[866,-0.8],[872,1.2],[878,-2.8],[884,-4.8],[890,-1.2],[896,0.4],[902,-3.4],[908,-1.6],[914,-2.4],[920,0.8],[926,-4],[930,3.6],[936,-1],[940,-4.6],[946,-2.2],[952,0],[958,-3],[964,1.2],[970,-1.4],[976,0.6],[980,-2],
[27,1.9],[41,-1.1],[55,0.1],[69,1.3],[83,-0.5],[97,2.1],[111,0.7],[125,-0.9],[139,1.9],[153,-0.3],[167,0.9],[181,-1.5],[195,2.3],[209,0.3],[223,-1.1],[237,1.5],[251,-2.1],[265,0.5],[279,-0.7],[293,-3.1],[307,1.1],[321,-1.7],[335,0.3],[349,-2.9],[363,-0.3],[377,1.3],[391,-1.1],[405,-3.3],[419,0.5],[433,-1.9],[447,-0.1],[461,-3.7],[475,-1.3],[489,0.9],[503,-2.1],[517,-0.5],[531,-4.3],[545,-1.5],[559,0.9],[573,-3.1],[587,-1.1],[601,-4.1],[615,0.1],[629,-2.3],[643,-0.9],[657,-4.5],[671,-1.7],[685,0.3],[699,-2.9],[713,-1.1],[727,-4.7],[741,-0.5],[755,-2.1],[769,-3.9],[783,0.5],[797,-1.7],[811,-4.3],[825,-2.5],[839,-0.3],[853,-3.5],[867,-1.9],[881,-4.1],[895,-0.9],[909,-3.3],[923,-1.3],[937,-2.9],[951,-0.7],[965,-3.9]
];

const oakSummerFit = [[0,6],[10,4.2],[40,2.2],[86,0.7],[140,-1],[199,-2.6],[250,-4],[309,-5.6],[399,-8.1],[500,-10],[585,-11.4],[700,-12.9],[807,-14.2],[950,-15.5],[1100,-16.6],[1250,-17.5],[1362,-18.1],[1500,-18.7],[1650,-19.2],[1800,-19.6],[1940,-20]];
const oakWinterFit = [[0,1.5],[30,0.8],[100,0.5],[400,0.4],[800,0.3],[1370,0.1]];
const mixedSummerFit = [[0,5.5],[43,3.1],[120,1.4],[199,-0.4],[309,-3.2],[442,-5.6],[598,-7.6],[797,-9.6],[963,-11],[1173,-12.9],[1405,-14.5],[1681,-15.9],[2000,-16.9]];
const mixedWinterFit = [[0,1.5],[50,0.8],[200,0.5],[600,0.3],[1000,0.1],[1329,-0.2]];
const pineSummerFit = [[0,9],[30,6],[86,3.4],[150,1],[220,-0.6],[286,-2.4],[380,-4.4],[475,-6.2],[641,-8.6],[800,-10.3],[963,-11.9],[1239,-14.1],[1571,-15.6],[1960,-17.2]];
const pineWinterFit = [[0,2],[50,1.2],[143,0.9],[475,0.4],[963,-0.9],[983,-1.1]];

const summerSets = [oakSummer, mixedSummer, pineSummer];
const winterSets = [oakWinter, mixedWinter, pineWinter];
const summerFits = [oakSummerFit, mixedSummerFit, pineSummerFit];
const winterFits = [oakWinterFit, mixedWinterFit, pineWinterFit];

const FONT = "'Liberation Sans', Arial, sans-serif";
const grids = [
  {left: 157, width: 602, top: 15, height: 400},
  {left: 157, width: 602, top: 415, height: 400},
  {left: 157, width: 602, top: 816, height: 402}
];
const yMax = [18.5, 18.5, 20];

const chart = echarts.init(document.getElementById('c'), null, {renderer: 'canvas'});

const xAxes = grids.map((g, i) => ({
  gridIndex: i, type: 'value', position: 'bottom', min: xTicks[0], max: xTicks[xTicks.length - 1], interval: 500,
  axisLine: {show: true, onZero: false, lineStyle: {color: '#000', width: 2}},
  axisTick: {show: i === 2, inside: false, length: 5, lineStyle: {color: '#666', width: 1}},
  axisLabel: {show: i === 2, color: '#000', fontSize: 16, fontWeight: 'bold', fontFamily: FONT, margin: 18,
    formatter: v => String(v)},
  splitLine: {show: false}
}));
const yAxes = grids.map((g, i) => ({
  gridIndex: i, type: 'value', position: 'left', inverse: true, min: yTicks[0], max: yMax[i], interval: 10,
  axisLine: {show: true, onZero: false, lineStyle: {color: '#000', width: 3}},
  axisTick: {show: true, inside: false, length: 4, lineStyle: {color: '#666', width: 1}},
  axisLabel: {color: '#000', fontSize: 16, fontWeight: 'bold', fontFamily: FONT, margin: 13,
    formatter: v => (yTicks.indexOf(v) >= 0 ? String(v) : '')},
  splitLine: {show: false}
}));

const series = [];
for (let i = 0; i < 3; i++) {
  series.push({
    name: 'Summer', type: 'scatter', xAxisIndex: i, yAxisIndex: i, data: summerSets[i],
    symbol: 'circle', symbolSize: 7, itemStyle: {color: '#000'}, z: 2, silent: true
  });
  series.push({
    name: 'Winter', type: 'scatter', xAxisIndex: i, yAxisIndex: i, data: winterSets[i],
    symbol: 'triangle', symbolSize: 6.5, itemStyle: {color: '#fff', borderColor: '#444', borderWidth: 0.9}, z: 3, silent: true
  });
  series.push({
    type: 'line', xAxisIndex: i, yAxisIndex: i, data: summerFits[i], smooth: true, showSymbol: false, symbol: 'none',
    lineStyle: {color: '#000', width: 2.5}, z: 5, silent: true
  });
  series.push({
    type: 'line', xAxisIndex: i, yAxisIndex: i, data: winterFits[i], smooth: true, showSymbol: false, symbol: 'none',
    lineStyle: {color: '#000', width: 2.5}, z: 5, silent: true
  });
}

const panelLabelPos = [[198, 49], [205, 456], [208, 848]];
const graphics = panelNames.map((n, i) => ({
  type: 'text', x: panelLabelPos[i][0], y: panelLabelPos[i][1], z: 10,
  style: {text: n, fill: '#000', font: 'bold 17px ' + FONT, align: 'left', verticalAlign: 'middle'}
}));
graphics.push({
  type: 'text', x: 40, y: 532, rotation: Math.PI / 2, z: 10,
  style: {
    text: '{a|Daytime net CO}{b|2}{a| exchange (umol CO}{b|2}{a| m}{c|-2}{a| s}{c|-1}{a|)}',
    align: 'center', verticalAlign: 'middle',
    rich: {
      a: {fontSize: 26, fontFamily: FONT, fill: '#000', lineHeight: 32},
      b: {fontSize: 16, fontFamily: FONT, fill: '#000', lineHeight: 16, verticalAlign: 'bottom'},
      c: {fontSize: 16, fontFamily: FONT, fill: '#000', lineHeight: 16, verticalAlign: 'top'}
    }
  }
});
graphics.push({
  type: 'text', x: 484, y: 1295, z: 10,
  style: {
    text: '{a|Photosynthetically active radiation (PAR, umol m}{c|-2}{a| s}{c|-1}{a|)}',
    align: 'center', verticalAlign: 'middle',
    rich: {
      a: {fontSize: 27.5, fontWeight: 'bold', fontFamily: FONT, fill: '#000', lineHeight: 32},
      c: {fontSize: 16, fontWeight: 'bold', fontFamily: FONT, fill: '#000', lineHeight: 16, verticalAlign: 'top'}
    }
  }
});

chart.setOption({
  animation: false,
  backgroundColor: '#fff',
  grid: grids.map(g => Object.assign({show: true, borderColor: '#000', borderWidth: 2, backgroundColor: 'transparent', containLabel: false, outerBoundsMode: 'none'}, g)),
  xAxis: xAxes,
  yAxis: yAxes,
  legend: {
    data: ['Summer', 'Winter'], orient: 'vertical', left: 592, top: 343, itemGap: 8,
    itemWidth: 9, itemHeight: 9, selectedMode: false,
    textStyle: {color: '#000', fontSize: 15, fontWeight: 'bold', fontFamily: FONT, padding: [0, 0, 0, 28]}
  },
  series: series,
  graphic: graphics
});
</script>
</body>
</html>
